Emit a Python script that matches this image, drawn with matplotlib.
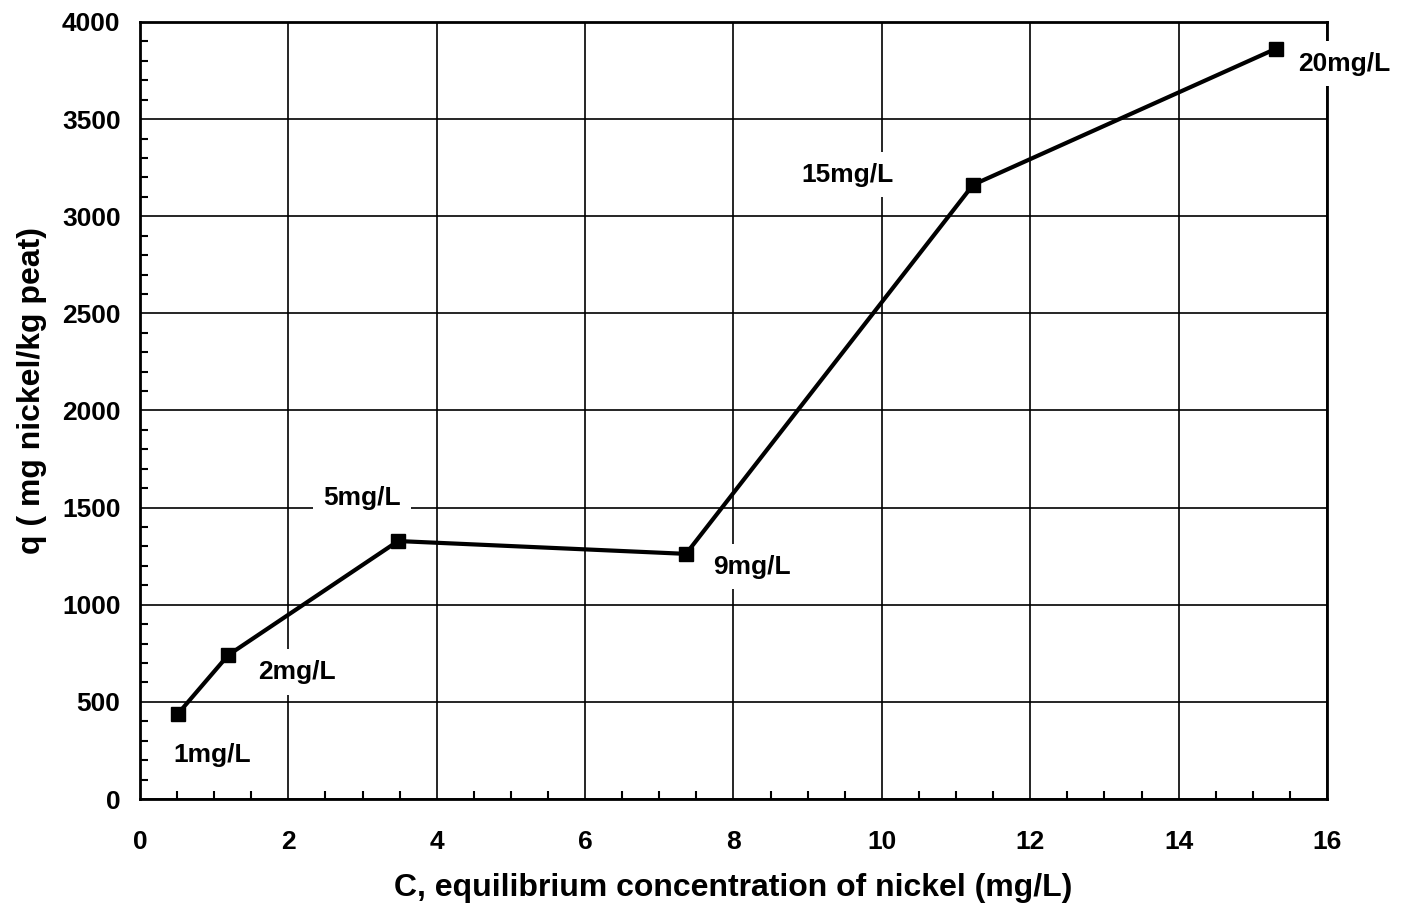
import matplotlib.pyplot as plt
from matplotlib.ticker import MultipleLocator

# equilibrium concentration C (mg/L) and uptake q (mg Ni / kg peat)
conc = [0.51, 1.19, 3.48, 7.36, 11.23, 15.31]
uptake = [438, 741, 1328, 1262, 3162, 3862]
labels = ["1mg/L", "2mg/L", "5mg/L", "9mg/L", "15mg/L", "20mg/L"]
label_x = [0.45, 1.59, 2.47, 7.72, 8.91, 15.61]
label_y = [227, 654, 1550, 1195, 3213, 3785]

plt.rcParams['font.family'] = ['Liberation Sans', 'DejaVu Sans']
plt.rcParams['font.weight'] = 'bold'

fig = plt.figure(figsize=(14.01, 9.11), dpi=100)
ax = fig.add_axes([0.0999, 0.1229, 0.8473, 0.8530])

ax.plot(conc, uptake, color='black', lw=3, marker='s', ms=10, zorder=4)

for t, x, y in zip(labels, label_x, label_y):
    ax.text(x, y, t, fontsize=19, fontweight='bold', ha='left', va='center',
            zorder=6, clip_on=False,
            bbox=dict(boxstyle='square,pad=0.4', fc='white', ec='none'))

ax.set_xlim(0, 16)
ax.set_ylim(0, 4000)
ax.xaxis.set_major_locator(MultipleLocator(2))
ax.xaxis.set_minor_locator(MultipleLocator(0.5))
ax.yaxis.set_major_locator(MultipleLocator(500))
ax.yaxis.set_minor_locator(MultipleLocator(100))

ax.grid(True, which='major', color='black', lw=1.2)
ax.set_axisbelow(True)
ax.tick_params(which='major', length=0, labelsize=19)
ax.tick_params(axis='x', which='major', pad=22)
ax.tick_params(axis='y', which='major', pad=14)
ax.tick_params(which='minor', direction='in', length=6, width=1.5,
               top=False, right=False)
for s in ax.spines.values():
    s.set_linewidth(2)

ax.set_xlabel('C, equilibrium concentration of nickel (mg/L)',
              fontsize=23, fontweight='bold', labelpad=14)
ax.set_ylabel('q ( mg nickel/kg peat)', fontsize=23, fontweight='bold')
ax.yaxis.set_label_coords(-0.078, 0.526)

fig.savefig('out.png', dpi=100, facecolor='white')
